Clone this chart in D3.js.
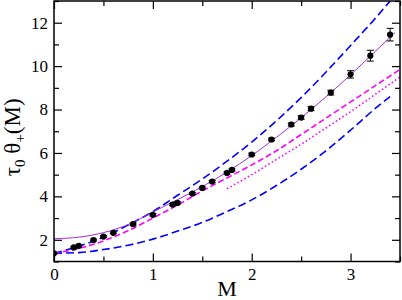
<!DOCTYPE html>
<html>
<head>
<meta charset="utf-8">
<script src="https://cdn.jsdelivr.net/npm/d3@7"></script>
<style>
  html, body { margin: 0; padding: 0; background: #fff; }
  svg { display: block; font-family: "Liberation Serif", "Times New Roman", serif; }
</style>
</head>
<body>
<div id="chart"></div>
<script>
// lattice data points
const dataM = [0, 0.2, 0.25, 0.4, 0.5, 0.6, 0.8, 1.0, 1.2, 1.25, 1.4, 1.5, 1.6, 1.75, 1.8, 2.0, 2.2, 2.4, 2.5, 2.6, 2.8, 3.0, 3.2, 3.4];
const dataVal = [1.38, 1.65, 1.72, 1.99, 2.15, 2.32, 2.72, 3.15, 3.62, 3.70, 4.13, 4.39, 4.68, 5.08, 5.22, 5.93, 6.62, 7.31, 7.63, 8.04, 8.78, 9.62, 10.48, 11.45];
const dataErr = [0.04, 0.04, 0.04, 0.04, 0.04, 0.04, 0.05, 0.05, 0.05, 0.05, 0.05, 0.05, 0.05, 0.05, 0.05, 0.06, 0.06, 0.07, 0.08, 0.09, 0.11, 0.17, 0.25, 0.29];

// fit curve (solid purple)
const fitM = [0, 0.25, 0.5, 0.75, 1.0, 1.25, 1.5, 1.75, 2.0, 2.25, 2.5, 2.75, 3.0, 3.25, 3.45];
const fitVal = [2.05, 2.12, 2.33, 2.70, 3.28, 3.85, 4.45, 5.12, 5.88, 6.72, 7.62, 8.58, 9.60, 10.68, 11.55];

// bounds (blue dashed)
const boundM = [0, 0.25, 0.5, 0.75, 1.0, 1.25, 1.5, 1.75, 2.0, 2.25, 2.5, 2.75, 3.0, 3.25, 3.4];
const upperVal = [1.38, 1.70, 2.12, 2.68, 3.30, 4.05, 4.80, 5.62, 6.50, 7.48, 8.55, 9.72, 10.95, 12.20, 13.0];
const lowerVal = [1.38, 1.41, 1.55, 1.75, 2.03, 2.40, 2.80, 3.30, 3.84, 4.50, 5.25, 6.10, 7.05, 8.05, 8.60];

// magenta dashed
const magM = [0, 0.25, 0.5, 0.75, 1.0, 1.25, 1.5, 1.75, 2.0, 2.25, 2.5, 2.75, 3.0, 3.25, 3.5];
const magVal = [1.38, 1.60, 1.95, 2.42, 3.00, 3.60, 4.25, 4.85, 5.45, 6.10, 6.85, 7.60, 8.35, 9.10, 9.85];

// magenta dotted
const dotM = [1.75, 2.0, 2.25, 2.5, 2.75, 3.0, 3.25, 3.5];
const dotVal = [4.35, 5.00, 5.70, 6.40, 7.15, 7.90, 8.70, 9.50];

const xTicks = [0, 1, 2, 3];
const xMinor = [0.5, 1.5, 2.5, 3.5];
const yTicks = [2, 4, 6, 8, 10, 12];
const yMinor = [1, 3, 5, 7, 9, 11, 13];

const width = 402, height = 300;
const plotL = 54, plotR = 400, plotT = 1, plotB = 261.5;

const svg = d3.select('#chart').append('svg')
  .attr('width', width)
  .attr('height', height);

const x = d3.scaleLinear().domain([0, 3.5]).range([plotL, plotR]);
const y = d3.scaleLinear().domain([1, 13]).range([plotB, plotT]);

svg.append('clipPath').attr('id', 'clip')
  .append('rect')
  .attr('x', plotL).attr('y', plotT)
  .attr('width', plotR - plotL).attr('height', plotB - plotT);

const plot = svg.append('g').attr('clip-path', 'url(#clip)');

const line = d3.line()
  .x(d => x(d[0]))
  .y(d => y(d[1]))
  .curve(d3.curveMonotoneX);

function drawCurve(ms, vals, color, sw, dash) {
  plot.append('path')
    .datum(ms.map((m, i) => [m, vals[i]]))
    .attr('fill', 'none')
    .attr('stroke', color)
    .attr('stroke-width', sw)
    .attr('stroke-dasharray', dash)
    .attr('d', line);
}

drawCurve(boundM, upperVal, '#0000ff', 1.6, '8,4');
drawCurve(boundM, lowerVal, '#0000ff', 1.6, '8,4');
drawCurve(magM, magVal, '#ff00ff', 1.6, '6,3');
drawCurve(dotM, dotVal, '#ff00ff', 1.6, '1.5,2.5');
drawCurve(fitM, fitVal, '#a030e0', 1, null);

// error bars
const pts = dataM.map((m, i) => ({ m, v: dataVal[i], e: dataErr[i] }));
const eb = plot.append('g').attr('stroke', '#000').attr('stroke-width', 1);
eb.selectAll('line.bar').data(pts).enter().append('line')
  .attr('x1', d => x(d.m)).attr('x2', d => x(d.m))
  .attr('y1', d => y(d.v - d.e)).attr('y2', d => y(d.v + d.e));
eb.selectAll('line.top').data(pts).enter().append('line')
  .attr('x1', d => x(d.m) - 3.5).attr('x2', d => x(d.m) + 3.5)
  .attr('y1', d => y(d.v + d.e)).attr('y2', d => y(d.v + d.e));
eb.selectAll('line.bot').data(pts).enter().append('line')
  .attr('x1', d => x(d.m) - 3.5).attr('x2', d => x(d.m) + 3.5)
  .attr('y1', d => y(d.v - d.e)).attr('y2', d => y(d.v - d.e));

plot.selectAll('circle').data(pts).enter().append('circle')
  .attr('cx', d => x(d.m))
  .attr('cy', d => y(d.v))
  .attr('r', 3.1)
  .attr('fill', '#000');

// axes (ticks pointing inward on all four sides)
function styleAxis(g) {
  g.select('.domain').remove();
  g.selectAll('line').attr('stroke', '#000').attr('stroke-width', 1.2);
  g.selectAll('text').attr('font-size', 17).attr('fill', '#000')
    .style('font-family', '"Liberation Serif", "Times New Roman", serif');
}

svg.append('g').attr('transform', `translate(0,${plotB})`)
  .call(d3.axisBottom(x).tickValues(xTicks).tickFormat(d3.format('d')).tickSize(-8).tickPadding(6))
  .call(styleAxis);
svg.append('g').attr('transform', `translate(0,${plotB})`)
  .call(d3.axisBottom(x).tickValues(xMinor).tickFormat('').tickSize(-5))
  .call(styleAxis);
svg.append('g').attr('transform', `translate(0,${plotT})`)
  .call(d3.axisTop(x).tickValues(xTicks).tickFormat('').tickSize(-8))
  .call(styleAxis);
svg.append('g').attr('transform', `translate(0,${plotT})`)
  .call(d3.axisTop(x).tickValues(xMinor).tickFormat('').tickSize(-5))
  .call(styleAxis);

svg.append('g').attr('transform', `translate(${plotL},0)`)
  .call(d3.axisLeft(y).tickValues(yTicks).tickFormat(d3.format('d')).tickSize(-8).tickPadding(6))
  .call(styleAxis);
svg.append('g').attr('transform', `translate(${plotL},0)`)
  .call(d3.axisLeft(y).tickValues(yMinor).tickFormat('').tickSize(-5))
  .call(styleAxis);
svg.append('g').attr('transform', `translate(${plotR},0)`)
  .call(d3.axisRight(y).tickValues(yTicks).tickFormat('').tickSize(-8))
  .call(styleAxis);
svg.append('g').attr('transform', `translate(${plotR},0)`)
  .call(d3.axisRight(y).tickValues(yMinor).tickFormat('').tickSize(-5))
  .call(styleAxis);

// frame
svg.append('rect')
  .attr('x', plotL).attr('y', plotT)
  .attr('width', plotR - plotL).attr('height', plotB - plotT)
  .attr('fill', 'none')
  .attr('stroke', '#000')
  .attr('stroke-width', 1.5);

// axis titles
svg.append('text')
  .attr('x', (plotL + plotR) / 2)
  .attr('y', 296)
  .attr('text-anchor', 'middle')
  .attr('font-size', 22)
  .text('M');

const yl = svg.append('text')
  .attr('transform', `translate(20,${(plotT + plotB) / 2 + 6}) rotate(-90)`)
  .attr('text-anchor', 'middle')
  .attr('font-size', 23);
yl.append('tspan').text('τ');
yl.append('tspan').attr('font-size', 15).attr('dy', 5).text('0');
yl.append('tspan').attr('dy', -5).text(' θ');
yl.append('tspan').attr('font-size', 15).attr('dy', 5).text('+');
yl.append('tspan').attr('dy', -5).text('(M)');
</script>
</body>
</html>
